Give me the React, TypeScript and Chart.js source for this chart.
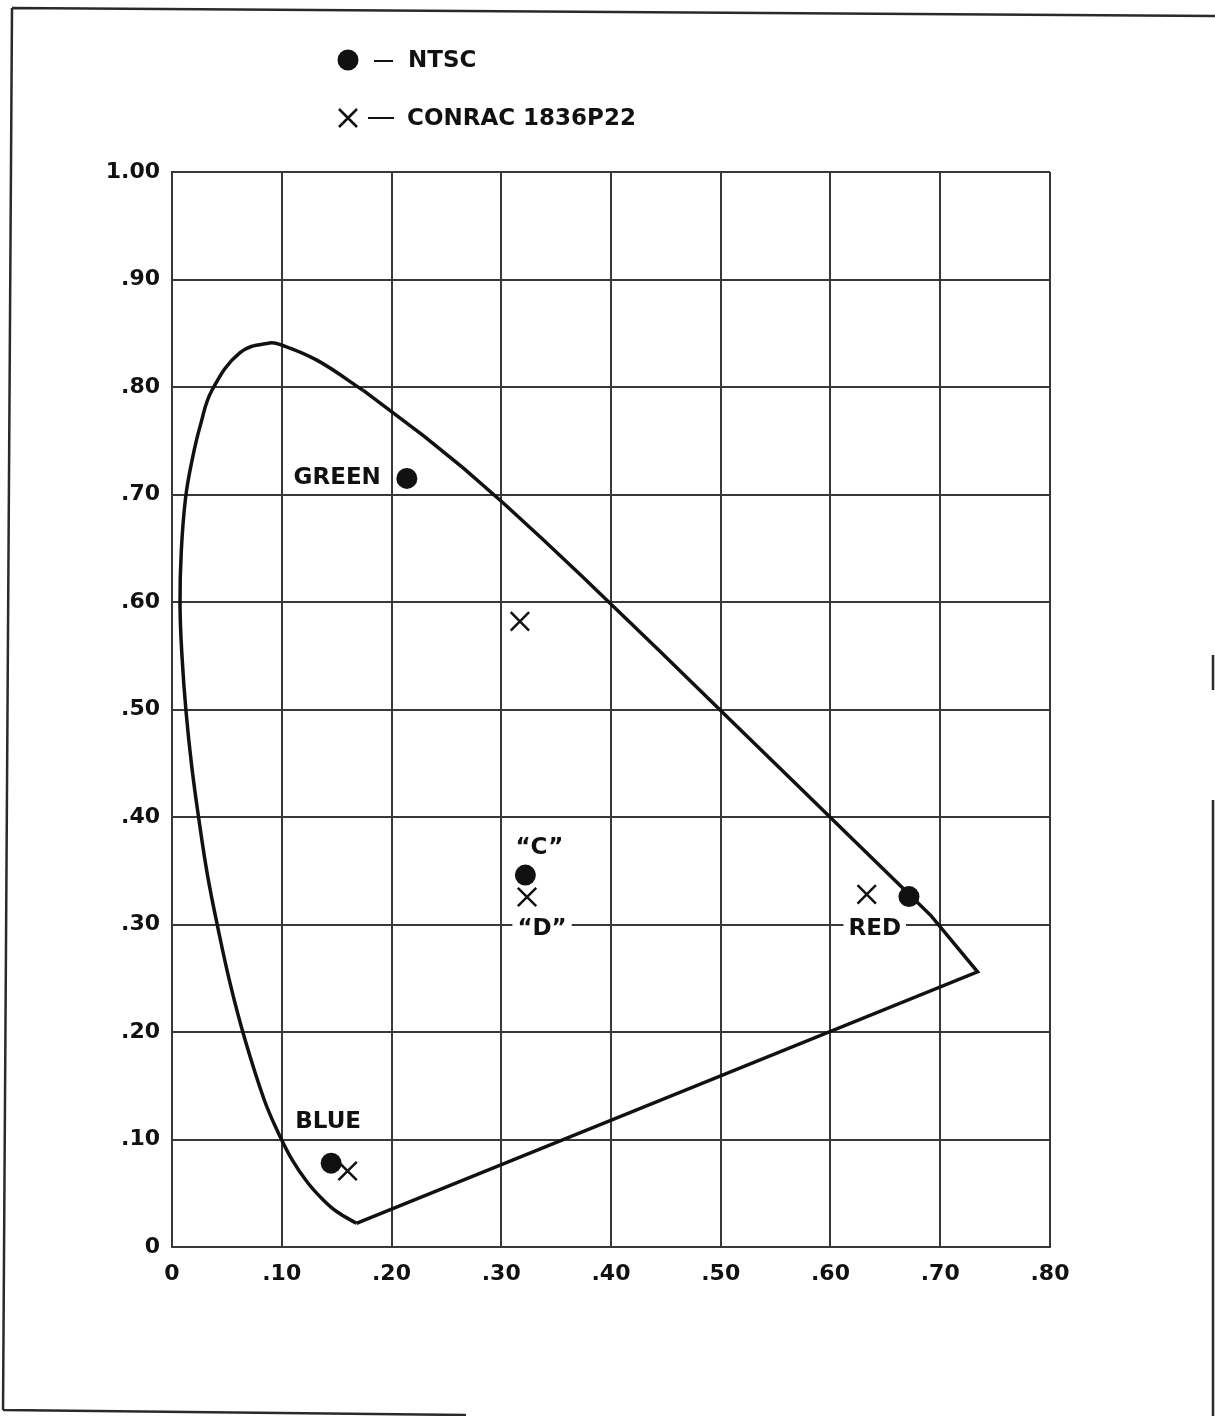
import React, { useEffect, useRef } from 'react';
import { Chart, registerables } from 'chart.js';

Chart.register(...registerables);

// ---- tick labels ----
const xTickLabels = ['0', '.10', '.20', '.30', '.40', '.50', '.60', '.70', '.80'];
const yTickLabels = ['0', '.10', '.20', '.30', '.40', '.50', '.60', '.70', '.80', '.90', '1.00'];

// ---- spectrum locus, curved part (blue end -> top of horseshoe) ----
const locusCurveX = [0.168, 0.150, 0.1376, 0.1235, 0.1095, 0.0965, 0.084, 0.0665, 0.053, 0.042, 0.0325, 0.0246, 0.018, 0.0128, 0.0092, 0.0073, 0.0085, 0.0125, 0.0185, 0.0260, 0.0364, 0.062, 0.089, 0.100, 0.132, 0.174];
const locusCurveY = [0.022, 0.033, 0.044, 0.060, 0.081, 0.107, 0.137, 0.193, 0.245, 0.296, 0.345, 0.397, 0.447, 0.498, 0.548, 0.597, 0.648, 0.698, 0.733, 0.765, 0.797, 0.832, 0.841, 0.839, 0.825, 0.797];

// ---- spectrum locus, straight part (green -> red) and purple line (red -> blue) ----
const locusEdgeX = [0.174, 0.2296, 0.2658, 0.3016, 0.3373, 0.3731, 0.4441, 0.5125, 0.5752, 0.6270, 0.6658, 0.6915, 0.734, 0.168];
const locusEdgeY = [0.797, 0.7543, 0.7243, 0.6923, 0.6589, 0.6245, 0.5547, 0.4866, 0.4242, 0.3725, 0.3340, 0.3083, 0.256, 0.022];

// ---- NTSC primaries + illuminant C ----
const ntscNames = ['GREEN', 'BLUE', '\u201CC\u201D', 'RED'];
const ntscX = [0.214, 0.145, 0.322, 0.6715];
const ntscY = [0.715, 0.078, 0.346, 0.326];

// ---- CONRAC 1836P22 primaries + illuminant D ----
const conracNames = ['GREEN', 'BLUE', '\u201CD\u201D', 'RED'];
const conracX = [0.317, 0.160, 0.3235, 0.633];
const conracY = [0.582, 0.0707, 0.3256, 0.328];

const legendLabels = ['NTSC', 'CONRAC 1836P22'];

const FONT = '"DejaVu Sans", "Liberation Sans", sans-serif';
const INK = '#111';
const GRID = '#383838';

const zip = (xs: number[], ys: number[]) => xs.map((x, i) => ({ x, y: ys[i] }));

const decorPlugin = {
  id: 'decor',
  beforeDraw(chart: any) {
    const ctx = chart.ctx;
    ctx.save();
    ctx.fillStyle = '#fff';
    ctx.fillRect(0, 0, chart.width, chart.height);
    // page frame (scan edges)
    ctx.strokeStyle = '#2a2a2a';
    ctx.lineWidth = 2.5;
    ctx.beginPath();
    ctx.moveTo(12, 8);
    ctx.lineTo(1215, 16);
    ctx.moveTo(12, 8);
    ctx.lineTo(3, 1410);
    ctx.moveTo(3, 1410);
    ctx.lineTo(466, 1415);
    ctx.moveTo(1213, 800);
    ctx.lineTo(1213, 1416);
    ctx.moveTo(1213, 655);
    ctx.lineTo(1213, 690);
    ctx.stroke();
    ctx.restore();
  },
  afterDraw(chart: any) {
    const ctx = chart.ctx;
    const xs = chart.scales.x;
    const ys = chart.scales.y;
    ctx.save();
    ctx.font = `bold 23px ${FONT}`;
    ctx.fillStyle = INK;
    ctx.textBaseline = 'middle';

    // point annotations
    const px = (v: number) => xs.getPixelForValue(v);
    const py = (v: number) => ys.getPixelForValue(v);
    const notes = [
      { text: ntscNames[0], x: px(ntscX[0]) - 26, y: py(ntscY[0]), align: 'right', bg: false },
      { text: ntscNames[1], x: px(ntscX[1]) - 3, y: py(ntscY[1]) - 41, align: 'center', bg: false },
      { text: ntscNames[2], x: px(ntscX[2]) + 14, y: py(ntscY[2]) - 27, align: 'center', bg: false },
      { text: conracNames[2], x: px(conracX[2]) + 15, y: py(conracY[2]) + 32, align: 'center', bg: true },
      { text: conracNames[3], x: px(conracX[3]) + 8, y: py(conracY[3]) + 35, align: 'center', bg: true },
    ];
    for (const n of notes) {
      ctx.textAlign = n.align;
      if (n.bg) {
        const w = ctx.measureText(n.text).width + 10;
        ctx.fillStyle = '#fff';
        ctx.fillRect(n.x - w / 2, n.y - 10, w, 20);
        ctx.fillStyle = INK;
      }
      ctx.fillText(n.text, n.x, n.y);
    }

    // legend
    ctx.textAlign = 'left';
    ctx.beginPath();
    ctx.arc(348, 60, 10.5, 0, Math.PI * 2);
    ctx.fill();
    ctx.strokeStyle = INK;
    ctx.lineWidth = 2.5;
    ctx.beginPath();
    ctx.moveTo(339, 109);
    ctx.lineTo(357, 127);
    ctx.moveTo(357, 109);
    ctx.lineTo(339, 127);
    ctx.stroke();
    ctx.lineWidth = 2;
    ctx.beginPath();
    ctx.moveTo(374, 61);
    ctx.lineTo(393, 61);
    ctx.moveTo(368, 118);
    ctx.lineTo(394, 118);
    ctx.stroke();
    ctx.fillText(legendLabels[0], 408, 61);
    ctx.fillText(legendLabels[1], 407, 119);
    ctx.restore();
  },
};

export default function App() {
  const ref = useRef<HTMLCanvasElement>(null);
  useEffect(() => {
    if (!ref.current) return;
    const tickFont = { family: FONT, size: 22, weight: 'bold' as const };
    const chart = new Chart(ref.current, {
      type: 'scatter',
      data: {
        datasets: [
          {
            data: zip(locusCurveX, locusCurveY),
            showLine: true,
            borderColor: INK,
            borderWidth: 3.5,
            pointRadius: 0,
            tension: 0.4,
            fill: false,
          },
          {
            data: zip(locusEdgeX, locusEdgeY),
            showLine: true,
            borderColor: INK,
            borderWidth: 3.5,
            pointRadius: 0,
            tension: 0,
            fill: false,
          },
          {
            data: zip(ntscX, ntscY),
            pointStyle: 'circle',
            pointRadius: 10.5,
            backgroundColor: INK,
            borderColor: INK,
            borderWidth: 0,
          },
          {
            data: zip(conracX, conracY),
            pointStyle: 'crossRot',
            pointRadius: 13,
            borderColor: INK,
            borderWidth: 2.5,
          },
        ],
      },
      options: {
        responsive: false,
        animation: false,
        devicePixelRatio: 1,
        events: [],
        layout: { padding: { top: 172, left: 0, right: 165, bottom: 0 } },
        plugins: { legend: { display: false }, tooltip: { enabled: false } },
        scales: {
          x: {
            type: 'linear',
            min: 0,
            max: 0.8,
            afterFit: (s: any) => { s.height = 169; },
            ticks: {
              stepSize: 0.1,
              color: INK,
              font: tickFont,
              padding: 14,
              maxRotation: 0,
              callback: (_v: any, i: number) => xTickLabels[i],
            },
            grid: { color: GRID, lineWidth: 2, drawTicks: false },
            border: { display: true, color: GRID, width: 2 },
          },
          y: {
            type: 'linear',
            min: 0,
            max: 1,
            afterFit: (s: any) => { s.width = 172; },
            ticks: {
              stepSize: 0.1,
              color: INK,
              font: tickFont,
              padding: 12,
              callback: (_v: any, i: number) => yTickLabels[i],
            },
            grid: { color: GRID, lineWidth: 2, drawTicks: false },
            border: { display: true, color: GRID, width: 2 },
          },
        },
      },
      plugins: [decorPlugin],
    });
    return () => chart.destroy();
  }, []);
  return (
    <div style={{ position: 'absolute', left: 0, top: 0, width: 1215, height: 1416, background: '#fff' }}>
      <canvas ref={ref} width={1215} height={1416} style={{ display: 'block' }} />
    </div>
  );
}
